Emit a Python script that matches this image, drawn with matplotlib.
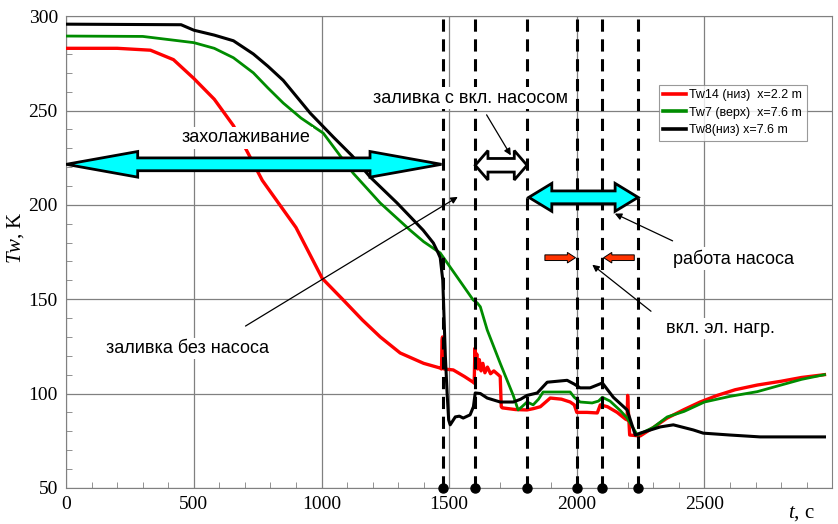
import matplotlib
matplotlib.use("Agg")
import matplotlib.pyplot as plt
from matplotlib.patches import Polygon
from matplotlib.ticker import MultipleLocator

plt.rcParams['font.family'] = ['Liberation Serif', 'DejaVu Serif']
plt.rcParams['mathtext.fontset'] = 'custom'
plt.rcParams['mathtext.it'] = 'Liberation Serif:italic'
plt.rcParams['mathtext.rm'] = 'Liberation Serif'

# Tw14 (низ) x=2.2 m
red_t = [0, 200, 330, 420, 500, 580, 655, 710, 768, 826, 900, 1003, 1085, 1160, 1230, 1308,
         1400, 1465, 1470, 1472, 1474, 1476, 1480, 1516, 1560, 1594, 1598, 1601, 1604, 1608,
         1612, 1618, 1625, 1632, 1640, 1650, 1662, 1675, 1692, 1700, 1704, 1708, 1760, 1805,
         1830, 1857, 1896, 1940, 1974, 1990, 2000, 2040, 2080, 2092, 2120, 2158, 2190, 2197,
         2199, 2201, 2207, 2248, 2300, 2354, 2420, 2483, 2550, 2620, 2707, 2800, 2880, 2970]
red_y = [283, 283, 282, 277, 267, 256, 242, 228, 213, 202, 188, 161, 149.6, 139, 130, 121.5,
         116, 113.5, 113, 128, 130, 116, 113, 112.5, 109, 106, 105.5, 124, 114, 121,
         113, 118, 112, 116, 111, 114, 110.5, 112, 110, 109, 93, 92.4, 91.5, 91.3,
         92, 93, 97.6, 97, 95.5, 94, 90, 90, 89.7, 94, 93, 90, 86.5, 86,
         99, 93, 78, 77.5, 82, 87, 91.5, 95.5, 99, 102, 104.5, 106.5, 108.5, 110]

# Tw7 (верх) x=7.6 m
green_t = [0, 300, 500, 580, 655, 733, 790, 850, 920, 1007, 1124, 1230, 1347, 1400, 1465, 1531,
           1594, 1610, 1622, 1649, 1700, 1751, 1770, 1785, 1805, 1829, 1850, 1868, 1974, 1990,
           2013, 2060, 2085, 2100, 2130, 2170, 2197, 2237, 2299, 2354, 2420, 2500, 2600, 2707,
           2800, 2880, 2970]
green_y = [289.5, 289.3, 286, 283, 278, 270, 262, 254, 246, 238, 216.8, 201, 186.6, 180.5, 174.5, 161.8,
           149.6, 148, 146, 133.7, 116, 99, 91.3, 93, 95.5, 94, 97, 100.8, 100.8, 98,
           95.5, 95, 96, 98, 96, 91, 87, 78, 82, 87.6, 90.5, 95.5, 98.5, 101,
           104.5, 107.5, 110]

# Tw8 (низ) x=7.6 m
black_t = [0, 450, 500, 580, 655, 733, 790, 850, 956, 1046, 1120, 1191, 1296, 1398, 1438, 1457,
           1465, 1475, 1480, 1485, 1492, 1498, 1504, 1524, 1540, 1555, 1582, 1595, 1602, 1622,
           1649, 1700, 1751, 1780, 1805, 1845, 1884, 1962, 1990, 2013, 2052, 2100, 2143, 2197,
           2229, 2248, 2327, 2378, 2456, 2495, 2600, 2718, 2970]
black_y = [295.8, 295.5, 292.6, 290, 287, 280, 273.5, 266, 248.6, 236, 226, 214.7, 201, 186.6, 179.8, 174.5,
           172, 160, 140, 120, 100, 86, 83.4, 87.6, 88, 87, 88.7, 93, 100.3, 100,
           97.6, 95.5, 95.5, 97, 99, 100.3, 106, 107, 105, 103, 103, 105.6, 98, 91.3,
           78, 79, 82.3, 83.4, 80.7, 79, 78, 77, 77]

series_labels = ["Tw14 (низ)  x=2.2 m", "Tw7 (верх)  x=7.6 m", "Tw8(низ) x=7.6 m"]
event_times = [1475, 1600, 1805, 2000, 2100, 2240]


def fat_arrow(ax, x0, x1, y, shaft, head, head_len, fc, left=True, right=True, lw=2.0):
    pts = []
    if left:
        pts += [(x0, y), (x0 + head_len, y + head), (x0 + head_len, y + shaft)]
    else:
        pts += [(x0, y + shaft)]
    if right:
        pts += [(x1 - head_len, y + shaft), (x1 - head_len, y + head), (x1, y),
                (x1 - head_len, y - head), (x1 - head_len, y - shaft)]
    else:
        pts += [(x1, y + shaft), (x1, y - shaft)]
    if left:
        pts += [(x0 + head_len, y - shaft), (x0 + head_len, y - head)]
    else:
        pts += [(x0, y - shaft)]
    ax.add_patch(Polygon(pts, closed=True, facecolor=fc, edgecolor='black',
                         linewidth=lw, joinstyle='miter', zorder=6))


fig, ax = plt.subplots(figsize=(8.38, 5.24), dpi=100)
fig.subplots_adjust(left=0.079, right=0.993, bottom=0.069, top=0.969)

ax.plot(red_t, red_y, color='#ff0000', lw=2.4, label=series_labels[0], zorder=3)
ax.plot(green_t, green_y, color='#008c00', lw=2.0, label=series_labels[1], zorder=3)
ax.plot(black_t, black_y, color='black', lw=2.2, label=series_labels[2], zorder=3)

for t in event_times:
    ax.axvline(t, color='black', lw=2.2, ls=(0, (4, 2.5)), zorder=4)
    ax.plot([t], [50], 'o', color='black', ms=6.5, clip_on=False, zorder=7)

ax.set_xlim(0, 3000)
ax.set_ylim(50, 300)
ax.set_xticks([0, 500, 1000, 1500, 2000, 2500])
ax.set_yticks([50, 100, 150, 200, 250, 300])
ax.xaxis.set_minor_locator(MultipleLocator(100))
ax.yaxis.set_minor_locator(MultipleLocator(10))
ax.tick_params(which='both', direction='in', color='#808080', labelsize=14)
ax.tick_params(which='major', length=0, pad=6)
ax.tick_params(which='minor', length=4)
ax.grid(True, which='major', color='#808080', lw=0.9)
for s in ax.spines.values():
    s.set_color('#808080')

ax.set_ylabel(r"$Tw$, K", fontsize=15)
ax.yaxis.set_label_coords(-0.052, 0.53)
ax.text(2880, -0.035, r"$t$, c", transform=ax.get_xaxis_transform(),
        ha='center', va='top', fontsize=15)

# annotations
fat_arrow(ax, 0, 1470, 221.5, 3.4, 6.8, 280, '#00ffff')
fat_arrow(ax, 1602, 1805, 221, 3.6, 7.8, 50, 'white')
fat_arrow(ax, 1812, 2240, 204, 3.4, 7.4, 90, '#00ffff')
fat_arrow(ax, 1875, 1995, 172, 1.5, 2.8, 32, '#ff3300', left=False, lw=0.7)
fat_arrow(ax, 2105, 2225, 172, 1.5, 2.8, 32, '#ff3300', right=False, lw=0.7)

sans = ['Liberation Sans', 'DejaVu Sans']
box = dict(facecolor='white', edgecolor='none', pad=1.5)
ax.text(705, 235.5, "захолаживание", family=sans, fontsize=13, ha='center',
        va='center', bbox=box, zorder=5)
ax.text(1582, 256.6, "заливка с вкл. насосом", family=sans, fontsize=13, ha='center',
        va='center', bbox=box, zorder=5)
ax.text(474, 124, "заливка без насоса", family=sans, fontsize=13, ha='center',
        va='center', bbox=box, zorder=5)
ax.text(2613, 171.5, "работа насоса", family=sans, fontsize=13, ha='center',
        va='center', bbox=box, zorder=5)
ax.text(2562, 134.5, "вкл. эл. нагр.", family=sans, fontsize=13, ha='center',
        va='center', bbox=box, zorder=5)

arrow = dict(arrowstyle='-|>', color='black', lw=0.9, mutation_scale=10)
ax.annotate("", xy=(1747, 225), xytext=(1641, 249), arrowprops=arrow, zorder=6)
ax.annotate("", xy=(1543, 205), xytext=(693, 135), arrowprops=arrow, zorder=6)
ax.annotate("", xy=(2139, 196), xytext=(2385, 180.3), arrowprops=arrow, zorder=6)
ax.annotate("", xy=(2052, 169.2), xytext=(2299, 142.7), arrowprops=arrow, zorder=6)

leg = ax.legend(loc='upper right', bbox_to_anchor=(0.975, 0.868), prop={'family': sans, 'size': 9},
                frameon=True, fancybox=False, handlelength=1.8, handletextpad=0.3,
                borderpad=0.35, labelspacing=0.45)
leg.get_frame().set_edgecolor('#808080')
leg.get_frame().set_linewidth(0.8)
for line in leg.get_lines():
    line.set_linewidth(2.6)
leg.set_zorder(8)

plt.savefig("out.png", dpi=100)
